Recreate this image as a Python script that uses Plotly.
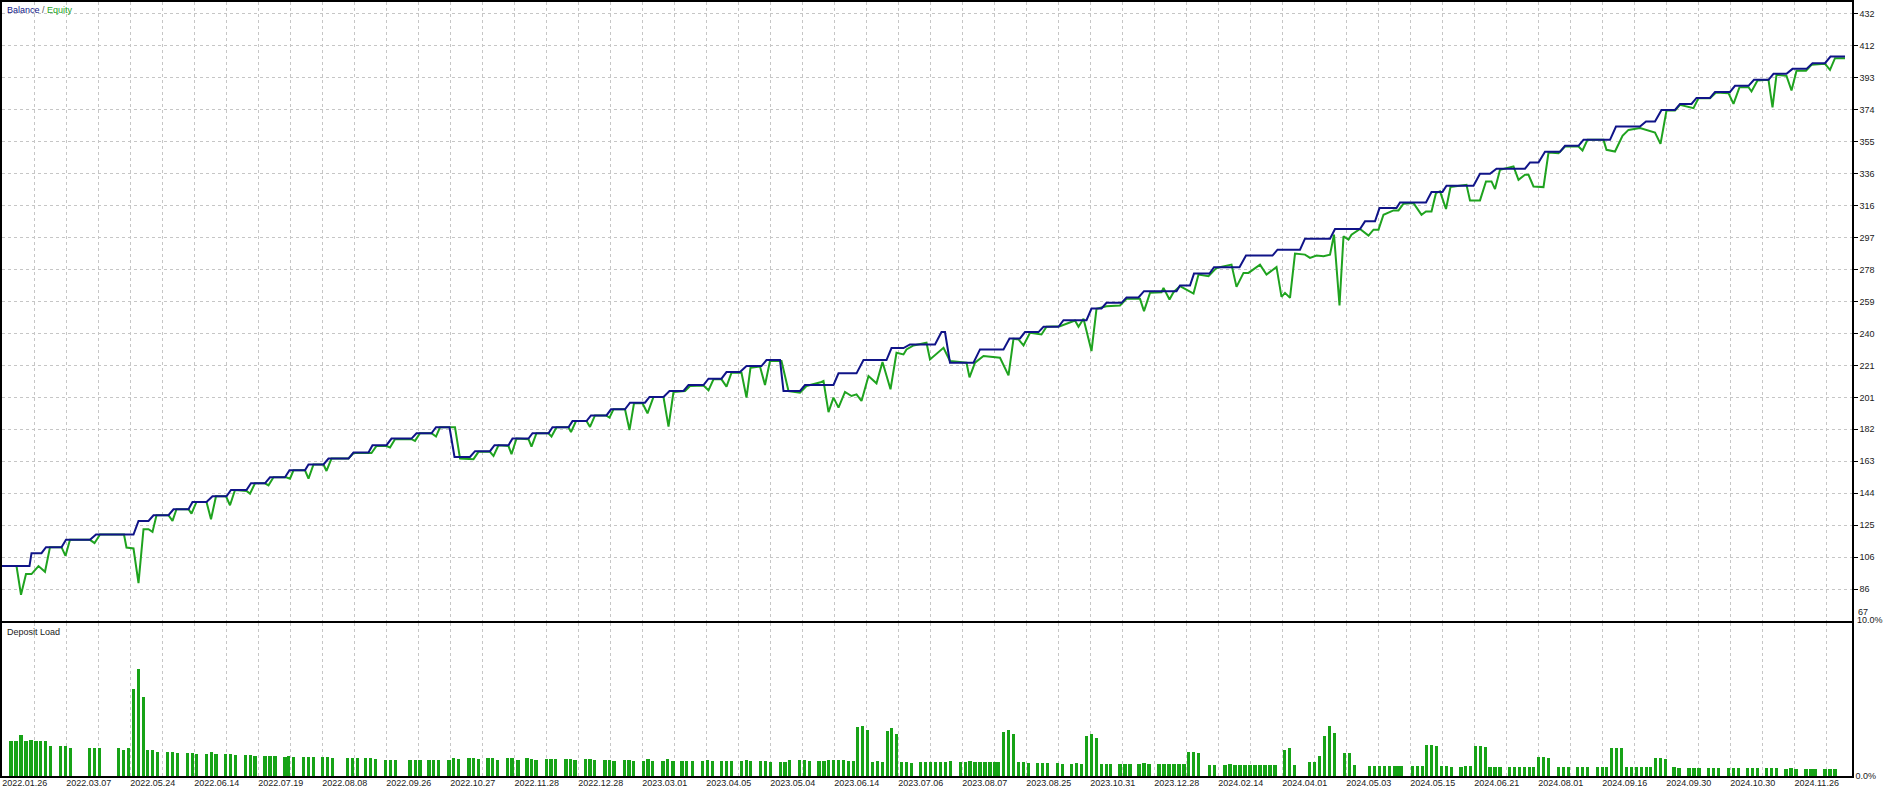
import plotly.graph_objects as go

# ---------------- data ----------------
date_labels = ["2022.01.26", "2022.03.07", "2022.05.24", "2022.06.14", "2022.07.19", "2022.08.08",
               "2022.09.26", "2022.10.27", "2022.11.28", "2022.12.28", "2023.03.01", "2023.04.05",
               "2023.05.04", "2023.06.14", "2023.07.06", "2023.08.07", "2023.08.25", "2023.10.31",
               "2023.12.28", "2024.02.14", "2024.04.01", "2024.05.03", "2024.05.15", "2024.06.21",
               "2024.08.01", "2024.09.16", "2024.09.30", "2024.10.30", "2024.11.26"]

y_labels = ["67", "86", "106", "125", "144", "163", "182", "201", "221", "240",
            "259", "278", "297", "316", "336", "355", "374", "393", "412", "432"]

bal_x = [0.3, 5.9, 6.3, 8.3, 9.2, 12.3, 13.2, 18.0, 19.2, 26.7, 27.7, 29.7, 30.7, 33.7, 34.7, 37.7,
         38.5, 41.3, 42.5, 45.3, 46.2, 49.3, 50.2, 53.0, 54.0, 57.0, 57.9, 61.0, 61.7, 64.7, 65.7, 69.7,
         70.7, 73.7, 74.5, 77.3, 78.3, 82.3, 83.3, 86.3, 87.2, 89.9, 90.9, 94.0, 95.0, 98.0, 98.9, 101.7,
         102.5, 105.7, 106.5, 109.7, 110.5, 113.7, 114.5, 117.3, 118.2, 121.3, 122.2, 125.0, 126.0, 129.0,
         129.9, 132.7, 133.9, 136.7, 137.7, 140.7, 141.7, 144.3, 145.3, 148.0, 149.3, 152.3, 153.3, 156.0,
         156.7, 160.0, 161.0, 166.7, 167.7, 171.3, 172.7, 177.3, 178.3, 180.7, 182.0, 187.0, 188.3, 189.0,
         190.0, 194.7, 196.0, 200.7, 201.9, 204.0, 205.0, 207.7, 208.7, 211.7, 212.7, 217.3, 218.3, 220.3,
         221.3, 224.3, 225.3, 227.7, 228.8, 235.3, 236.0, 238.0, 238.8, 241.9, 242.8, 247.9, 249.2, 254.5,
         255.5, 260.0, 261.0, 266.0, 267.0, 272.0, 273.0, 275.0, 275.9, 279.3, 280.0, 285.2, 286.3, 288.5,
         289.3, 294.7, 296.0, 298.0, 299.3, 305.0, 306.0, 307.7, 309.0, 312.0, 313.0, 315.7, 316.7, 322.0,
         323.2, 328.0, 329.2, 331.0, 332.3, 335.0, 336.0, 338.3, 339.3, 342.0, 343.0, 346.0, 347.0, 349.7,
         350.8, 353.7, 354.7, 357.3, 358.5, 361.3, 362.5, 365.0, 366.1, 369.0]
bal_y = [100, 100, 107.8, 107.8, 111.4, 111.4, 115.8, 115.8, 119, 119, 127.2, 127.2, 130.6, 130.6, 134.2, 134.2,
         138.6, 138.6, 142, 142, 145.8, 145.8, 149.8, 149.8, 153.4, 153.4, 157.6, 157.6, 161.1, 161.1, 164.7, 164.7,
         168.3, 168.3, 172.7, 172.7, 176.7, 176.7, 179.9, 179.9, 183.5, 183.5, 165.6, 165.6, 169.1, 169.1, 172.7, 172.7,
         176.7, 176.7, 179.9, 179.9, 183.5, 183.5, 187.2, 187.2, 190.6, 190.6, 194.3, 194.3, 198.3, 198.3,
         201.7, 201.7, 205.3, 205.3, 208.9, 208.9, 212.7, 212.7, 216.7, 216.7, 220.3, 220.3, 223.9, 223.9,
         205.3, 205.3, 208.9, 208.9, 215.9, 215.9, 223.9, 223.9, 231.1, 231.1, 233.3, 233.3, 240.7, 240.7,
         222.3, 222.3, 230.3, 230.3, 236.9, 236.9, 240.7, 240.7, 243.9, 243.9, 247.9, 247.9, 254.9, 254.9,
         258.3, 258.3, 261.5, 261.5, 265.3, 265.3, 268.7, 268.7, 275.9, 275.9, 279.7, 279.7, 286.7, 286.7,
         290.3, 290.3, 296.9, 296.9, 302.7, 302.7, 307.3, 307.3, 315.3, 315.3, 318.7, 318.7, 325, 325,
         328.7, 328.7, 335.9, 335.9, 339, 339, 342.7, 342.7, 349.1, 349.1, 352.7, 352.7, 356.3, 356.3,
         364.3, 364.3, 367.3, 367.3, 374.3, 374.3, 377.9, 377.9, 381.5, 381.5, 385.1, 385.1, 388.8, 388.8,
         392.4, 392.4, 396, 396, 399, 399, 402.4, 402.4, 406.4, 406.4]

eq_x = [0.3, 3.3, 4.2, 5.2, 6.3, 7.7, 9.0, 10.0, 12.3, 13.1, 14.0, 18.0, 18.9, 20.0, 24.8, 25.3, 26.7, 27.7,
        28.7, 29.7, 30.5, 31.3, 33.7, 34.5, 35.3, 37.7, 38.3, 39.3, 41.3, 42.2, 43.2, 45.2, 46.0, 47.0, 49.3,
        50.0, 51.0, 53.0, 53.7, 54.7, 57.2, 58.0, 58.7, 61.0, 61.7, 62.7, 64.7, 65.3, 66.3, 69.7, 70.7, 74.3,
        75.3, 77.3, 78.0, 79.0, 82.3, 83.0, 84.0, 86.3, 87.2, 88.0, 91.0, 92.0, 94.7, 95.7, 98.0, 98.7, 99.7,
        101.7, 102.3, 103.3, 105.7, 106.3, 107.3, 109.7, 110.3, 111.3, 113.7, 114.2, 115.2, 117.3, 118.0,
        119.0, 121.2, 121.9, 122.7, 125.0, 125.9, 126.8, 128.5, 129.5, 130.7, 132.7, 133.7, 134.7, 137.0,
        138.0, 140.7, 141.7, 142.7, 144.3, 145.3, 146.3, 148.3, 149.3, 150.1, 152.0, 153.0, 154.0, 156.3,
        157.7, 160.0, 161.3, 164.3, 164.7, 165.7, 166.7, 167.7, 169.0, 170.3, 171.3, 172.3, 173.7, 175.3,
        176.5, 178.1, 179.3, 180.7, 181.3, 182.7, 185.3, 186.0, 188.7, 190.0, 193.3, 193.9, 195.0, 196.7,
        200.0, 201.7, 202.7, 203.7, 204.7, 206.0, 208.3, 209.3, 212.0, 215.0, 215.7, 216.7, 218.3, 219.3,
        221.3, 224.0, 225.3, 228.0, 228.8, 230.0, 232.3, 232.7, 233.9, 234.7, 236.0, 237.0, 238.7, 239.7,
        241.7, 243.3, 246.3, 247.3, 248.7, 249.7, 252.0, 253.3, 255.3, 256.3, 257.0, 258.0, 259.0, 261.0,
        262.0, 263.3, 264.7, 266.0, 266.8, 267.9, 268.7, 269.7, 270.3, 272.0, 273.7, 274.7, 275.7, 276.7,
        278.7, 279.7, 280.7, 282.7, 284.3, 285.2, 286.3, 287.2, 288.0, 289.2, 290.1, 293.3, 294.0, 296.0,
        297.2, 298.3, 299.0, 300.0, 302.7, 303.7, 305.0, 305.7, 306.7, 308.7, 309.7, 311.7, 313.0, 315.7,
        316.5, 317.5, 320.7, 321.3, 323.0, 324.5, 325.7, 328.0, 329.3, 331.0, 332.1, 333.3, 335.0, 336.0,
        338.7, 339.7, 342.0, 343.2, 345.7, 346.7, 347.9, 349.7, 350.3, 351.5, 353.7, 354.5, 355.3, 357.3,
        358.3, 359.3, 361.2, 362.3, 365.0, 366.0, 367.0, 369.0]
eq_y = [100, 100, 82.8, 95.2, 95.2, 100, 96.6, 111.4, 111.4, 106.2, 115.8, 115.8, 113.8, 119, 119, 111.2, 110.6, 89.8,
        122.2, 122.2, 120.6, 130.6, 130.6, 127.2, 134.2, 134.2, 131.6, 138.6, 138.6, 128.2, 142, 142, 136.6, 145.8, 145.2,
        143.6, 149.8, 149.8, 148.6, 153.4, 153.4, 152.6, 157.6, 157.6, 152.6, 161.1, 161.1, 157.2, 164.7, 164.7, 168.0, 168.0,
        172.2, 172.2, 171.3, 176.3, 176.3, 175.3, 179.9, 179.9, 177.9, 183.5, 183.5, 164.7, 164.3, 168.7, 168.7, 166.2, 172.7,
        172.2, 167.3, 176.7, 176.3, 171.9, 179.9, 179.9, 177.9, 183.5, 183.5, 180.6, 187.2, 187.2, 183.7,
        190.6, 190.6, 189.3, 194.3, 194.3, 181.8, 197.9, 197.9, 191.9, 201.7, 201.7, 183.9, 204.7, 205.3,
        208.3, 208.6, 205.7, 212.3, 212.3, 207.9, 216.3, 216.3, 201.3, 219.3, 220.0, 208.9, 223.3, 223.3,
        205.3, 204.3, 208.3, 210.7, 211.3, 192.6, 201.3, 195.3, 204.7, 202.3, 203.3, 199.3, 214.3, 209.9,
        222.7, 206.3, 228.3, 227.3, 230.3, 232.7, 234.3, 224.3, 231.3, 223.3, 222.3, 213.5, 222.3, 226.3,
        225.3, 214.7, 236.7, 236.3, 232.7, 240.3, 239.3, 243.9, 244.3, 247.7, 243.9, 248.7, 229.3, 254.7,
        256.3, 256.7, 260.7, 260.7, 253.3, 264.3, 264.7, 267.3, 260.3, 264.7, 268.3, 266.7, 263.9, 275.3,
        274.3, 279.3, 281.3, 267.9, 276.3, 276.3, 281.3, 275.3, 279.9, 261.9, 264.3, 261.3, 287.9, 287.3,
        285.3, 286.7, 286.3, 287.3, 299.3, 256.7, 298.3, 296.3, 299.3, 302.7, 298.7, 302.3, 302.3, 311.3,
        313.9, 313.9, 317.9, 318.3, 311.3, 313.3, 313.3, 324.3, 325.3, 314.7, 328.0, 329.3, 319.9, 319.9,
        331.3, 331.3, 326.7, 338.3, 340.3, 332.3, 335.3, 335.3, 328.3, 327.9, 348.7, 348.3, 352.3, 352.3,
        349.9, 356.3, 356.3, 350.3, 349.3, 358.7, 362.3, 363.4, 362.3, 360.7, 353.9, 373.9, 373.9, 377.4,
        375.4, 381.4, 381.4, 384.8, 384.4, 377.9, 388.0, 388.0, 385.4, 392.0, 392.4, 375.9, 395.4, 394.8,
        386.0, 397.9, 397.9, 401.4, 402.0, 398.4, 405.4, 405.4]

dep_x = [2.2, 3.2, 4.2, 5.2, 6.2, 7.2, 8.1, 9.1, 10.1, 12.1, 13.1, 14.1, 17.9, 18.9, 19.9,
         23.7, 24.7, 25.7, 26.7, 27.7, 28.7, 29.5, 30.5, 31.5, 33.5, 34.5, 35.5, 37.5, 38.5, 39.3,
         41.3, 42.3, 43.2, 45.1, 46.1, 47.1, 49.1, 50.1, 51.0, 53.0, 54.0, 55.0, 57.0, 57.7, 58.7,
         60.7, 61.7, 62.7, 64.5, 65.5, 66.5, 69.5, 70.5, 71.5, 73.1, 74.1, 75.1, 77.1, 78.1, 79.1,
         82.0, 83.1, 84.0, 85.8, 86.7, 87.7, 89.8, 90.7, 91.7, 93.8, 94.7, 95.7, 97.6, 98.5, 99.5,
         101.5, 102.4, 103.6, 105.4, 106.3, 107.2, 109.3, 110.2, 111.1, 113.2, 114.1, 115.0,
         117.1, 118.0, 118.9, 121.0, 121.9, 122.8, 124.9, 125.8, 126.7, 128.7, 129.6, 130.5,
         132.6, 133.5, 134.6, 136.4, 137.3, 138.5,
         140.5, 141.5, 142.5, 144.3, 145.3, 146.3, 148.3, 149.3, 150.1, 152.1, 153.1, 154.1,
         156.1, 157.0, 157.9, 159.9, 160.9, 161.9, 163.8, 164.8, 165.7, 166.7, 167.7, 168.7, 169.7, 170.7,
         171.5, 172.5, 173.5, 174.5, 175.5, 176.5, 177.5, 178.3, 179.3, 180.3, 181.3, 182.3,
         184.1, 185.1, 186.1, 187.1, 188.1, 189.1, 190.1, 192.1, 193.1, 194.0, 195.0, 196.0, 197.0,
         198.0, 199.0, 199.7, 200.7, 201.7, 202.7, 203.7, 204.7, 205.7, 207.5, 208.5, 209.5, 211.5, 212.5,
         214.3, 215.3, 216.3, 217.3, 218.3, 219.3, 220.3, 221.3, 222.1, 224.0, 225.0, 226.0,
         227.8, 228.8, 229.8, 231.8, 232.8, 233.8, 234.8, 235.8, 236.8, 237.7, 238.7, 239.7,
         241.9, 242.9, 245.0, 246.0, 247.0, 248.0, 249.0, 250.0, 251.0, 252.0, 253.0, 254.0, 255.0,
         256.9, 257.9, 258.9, 261.9, 262.9, 263.9, 264.9, 265.9, 266.9, 268.9, 269.9, 270.9,
         273.9, 274.9, 275.9, 276.9, 277.9, 278.9, 279.6, 280.3,
         282.5, 283.5, 284.5, 285.3, 286.3, 287.3, 288.3, 289.3, 290.3, 292.2, 293.1, 294.1, 295.1,
         296.1, 297.1, 298.0, 299.0, 300.0, 301.9, 302.9, 303.9, 304.9, 305.9, 306.7, 307.7, 308.7, 309.7,
         311.7, 312.7, 313.7, 315.5, 316.5, 317.5, 319.5, 320.5, 321.3, 322.3, 323.3, 324.3, 325.3,
         326.3, 327.3, 328.3, 329.3, 330.1, 331.1, 332.1, 333.1, 334.8, 335.8, 337.8, 338.8, 339.8,
         341.7, 342.7, 343.7, 345.7, 346.7, 347.7, 349.5, 350.5, 351.5, 353.3, 354.3, 355.3,
         357.2, 358.2, 359.2, 361.2, 362.2, 363.0, 365.0, 366.0, 367.0]
dep_y = [2.26, 2.26, 2.70, 2.32, 2.37, 2.26, 2.26, 2.32, 1.99, 1.93, 1.99, 1.86, 1.86, 1.86, 1.80,
         1.80, 1.73, 1.86, 5.66, 6.97, 5.15, 1.73, 1.73, 1.60, 1.60, 1.60, 1.53, 1.53, 1.53, 1.47,
         1.47, 1.60, 1.47, 1.47, 1.47, 1.40, 1.40, 1.40, 1.34, 1.34, 1.34, 1.34, 1.27, 1.34, 1.27,
         1.27, 1.27, 1.27, 1.27, 1.27, 1.20, 1.20, 1.20, 1.20, 1.20, 1.20, 1.14, 1.07, 1.07, 1.07,
         1.05, 1.05, 1.05, 1.05, 1.05, 1.05, 1.05, 1.18, 1.12, 1.18, 1.18, 1.12, 1.18, 1.18, 1.05,
         1.18, 1.18, 1.05, 1.18, 1.12, 1.05, 1.12, 1.12, 1.12, 1.12, 1.12, 1.05,
         1.12, 1.12, 1.05, 1.05, 1.05, 1.00, 1.05, 1.05, 1.00, 1.00, 1.10, 1.00,
         1.00, 1.10, 1.00, 1.00, 1.00, 1.00,
         0.99, 1.05, 0.99, 0.99, 0.99, 0.99, 0.99, 1.05, 0.99, 0.99, 0.99, 0.92,
         0.92, 0.92, 1.05, 1.05, 1.05, 0.99, 0.99, 0.99, 1.05, 1.05, 1.05, 1.05, 0.99, 0.99,
         3.20, 3.25, 2.98, 0.92, 0.99, 0.92, 2.96, 3.11, 2.76, 0.92, 0.92, 0.86,
         0.92, 0.92, 0.92, 0.92, 0.92, 0.92, 0.99, 0.92, 0.92, 0.99, 0.92, 0.92, 0.92,
         0.92, 0.92, 0.92, 2.89, 3.03, 2.76, 0.92, 0.92, 0.86, 0.86, 0.86, 0.86, 0.86, 0.79,
         0.79, 0.86, 0.79, 2.59, 2.72, 2.46, 0.79, 0.79, 0.79, 0.79, 0.79, 0.79,
         0.79, 0.86, 0.79, 0.79, 0.79, 0.79, 0.79, 0.79, 0.79, 1.56, 1.56, 1.49,
         0.72, 0.72, 0.72, 0.79, 0.72, 0.72, 0.72, 0.72, 0.72, 0.72, 0.72, 0.72, 0.72,
         1.70, 1.80, 0.72, 0.90, 0.90, 1.30, 2.60, 3.30, 2.80, 1.50, 1.50, 0.72,
         0.66, 0.66, 0.66, 0.66, 0.66, 0.66, 0.66, 0.66,
         0.66, 0.66, 0.66, 2.04, 2.04, 1.97, 0.66, 0.66, 0.59, 0.59, 0.66, 0.66, 1.97,
         1.97, 1.91, 0.59, 0.59, 0.59, 0.59, 0.59, 0.59, 0.59, 0.59, 0.59, 1.25, 1.25, 1.18,
         0.59, 0.59, 0.59, 0.59, 0.59, 0.59, 0.59, 0.59, 0.59, 1.84, 1.84, 1.84, 0.59,
         0.59, 0.59, 0.59, 0.59, 0.59, 1.18, 1.18, 1.12, 0.59, 0.53, 0.53, 0.53, 0.53,
         0.53, 0.53, 0.53, 0.53, 0.53, 0.53, 0.53, 0.53, 0.53, 0.53, 0.53, 0.53,
         0.46, 0.53, 0.46, 0.46, 0.46, 0.46, 0.46, 0.46, 0.46]

# ---------------- layout geometry ----------------
W, H = 1885, 788
ML, MR, MT, MB = 2, 33, 2, 12
PH = H - MT - MB            # plot area height in px
X_RANGE = [0.4, 370.4]      # deal index range shown
Y_MAIN_RANGE = [67, 439.2]
GRID0, GRID_STEP = 0.54, 6.4

def py(pix):                # pixel row -> paper y
    return (H - MB - pix) / PH

main_dom = [py(621), 1.0]
dep_dom = [0.0, py(623)]

n_grid = 2 * len(date_labels)
grid_vals = [GRID0 + GRID_STEP * k for k in range(n_grid)]
grid_text = [date_labels[k // 2] if k % 2 == 0 else "" for k in range(n_grid)]
y_step = (float(y_labels[-1]) - float(y_labels[0])) / (len(y_labels) - 1)
y_vals = [float(y_labels[0]) + y_step * k for k in range(len(y_labels))]

NAVY = "#101488"
GREEN = "#1fa31f"
BARG = "#17a317"
GRIDC = "#c6c6c6"
FONT = "Liberation Sans, Arial, sans-serif"

fig = go.Figure()
fig.add_trace(go.Bar(x=dep_x, y=dep_y, width=0.66, marker=dict(color=BARG, line=dict(width=0)),
                     xaxis="x2", yaxis="y2", showlegend=False))
fig.add_trace(go.Scatter(x=eq_x, y=eq_y, mode="lines", line=dict(color=GREEN, width=2),
                         xaxis="x", yaxis="y", showlegend=False))
fig.add_trace(go.Scatter(x=bal_x, y=bal_y, mode="lines", line=dict(color=NAVY, width=2),
                         xaxis="x", yaxis="y", showlegend=False))

axis_common = dict(showline=True, mirror=True, linecolor="black", linewidth=1.5,
                   zeroline=False, showgrid=True, gridcolor=GRIDC, gridwidth=1,
                   griddash="3px,3px", automargin=False)

fig.update_layout(
    width=W, height=H,
    margin=dict(l=ML, r=MR, t=MT, b=MB),
    paper_bgcolor="white", plot_bgcolor="white",
    font=dict(family=FONT, size=9, color="#1a1a1a"),
    bargap=0,
    xaxis=dict(domain=[0, 1], range=X_RANGE, anchor="y", tickmode="array", tickvals=grid_vals,
               showticklabels=False, ticks="", **axis_common),
    yaxis=dict(domain=main_dom, range=Y_MAIN_RANGE, anchor="x", side="right", tickmode="array",
               tickvals=y_vals[1:], ticktext=y_labels[1:], ticks="outside", ticklen=4,
               tickcolor="black", tickfont=dict(size=9, family=FONT, color="#1a1a1a"), **axis_common),
    xaxis2=dict(domain=[0, 1], range=X_RANGE, anchor="y2", tickmode="array", tickvals=grid_vals,
                ticktext=grid_text, ticks="", ticklabelshift=22, ticklabelstandoff=-3,
                tickfont=dict(size=9, family=FONT, color="#1a1a1a"), **axis_common),
    yaxis2=dict(domain=dep_dom, range=[0, 10], anchor="x2", side="right", tickmode="array",
                tickvals=[0], ticktext=["0.0%"], ticks="", showline=True, mirror=True,
                linecolor="black", linewidth=1.5, zeroline=False, showgrid=False, automargin=False,
                tickfont=dict(size=9, family=FONT, color="#1a1a1a")),
    annotations=[
        dict(xref="paper", yref="paper", x=0.0016, y=py(10), xanchor="left", yanchor="middle",
             showarrow=False, font=dict(size=9, family=FONT),
             text="<span style='color:#101488'>Balance</span> <span style='color:#555'>/</span> "
                  "<span style='color:#1fa31f'>Equity</span>"),
        dict(xref="paper", yref="paper", x=0.0016, y=py(632), xanchor="left", yanchor="middle",
             showarrow=False, font=dict(size=9, family=FONT, color="#1a1a1a"), text="Deposit Load"),
        dict(xref="paper", yref="paper", x=1.0, xshift=4, y=py(612), xanchor="left", yanchor="middle",
             showarrow=False, font=dict(size=9, family=FONT, color="#1a1a1a"), text=y_labels[0]),
        dict(xref="paper", yref="paper", x=1.0, xshift=3, y=py(620), xanchor="left", yanchor="middle",
             showarrow=False, font=dict(size=9, family=FONT, color="#1a1a1a"), text="10.0%"),
    ],
)

fig.write_html("out.html", config={"displayModeBar": False},
               post_script="document.body.style.margin='0';document.body.style.padding='0';"
                           "document.body.style.overflow='hidden';")
